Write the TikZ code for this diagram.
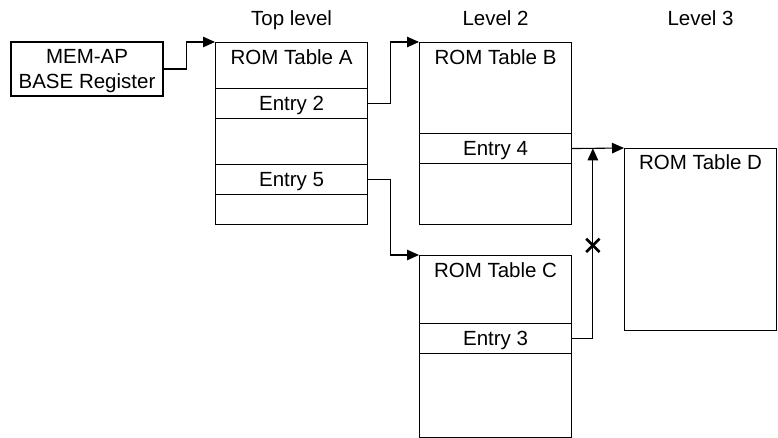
\documentclass[tikz,border=0pt]{standalone}
\usepackage{fontspec}
\setmainfont{Liberation Sans}
\usetikzlibrary{calc,arrows.meta}

\tikzset{
  tbl/.style={draw, line width=1.1pt, minimum width=152pt, minimum height=182pt, anchor=north west, inner sep=0pt},
  entry/.style={draw, line width=1.1pt, minimum width=152pt, minimum height=30pt, anchor=north west, inner sep=0pt, text height=14.7pt, text depth=0pt},
  hdr/.style={anchor=base, inner sep=0pt},
  lvl/.style={anchor=base, inner sep=0pt},
  link/.style={line width=1.1pt, -{Triangle[length=12pt,width=10.5pt]}},
}

\begin{document}
\begin{tikzpicture}[x=1pt, y=-1pt, font=\fontsize{20.5}{25}\selectfont]
  \useasboundingbox (0,0) rectangle (778,438);

  % top-left corners of the ROM tables
  \coordinate (A) at (215,42);
  \coordinate (B) at (419,42);
  \coordinate (C) at (419,255);
  \coordinate (D) at (624,148);

  % register box
  \node[draw, line width=1.1pt, minimum width=152pt, minimum height=54pt, align=center, inner sep=0pt, text depth=0pt] (mem) at (87,69) {MEM-AP\\BASE Register};

  % tables
  \node[tbl] (tA) at (A) {};
  \node[tbl] (tB) at (B) {};
  \node[tbl] (tC) at (C) {};
  \node[tbl] (tD) at (D) {};

  \node[hdr] (hA) at ($(tA.north)+(0,23)$) {ROM Table A};
  \node[hdr] (hB) at ($(tB.north)+(0,23)$) {ROM Table B};
  \node[hdr] (hC) at ($(tC.north)+(0,22)$) {ROM Table C};
  \node[hdr] (hD) at ($(tD.north)+(0,22)$) {ROM Table D};

  % entries
  \node[entry] (e2) at ($(A)+(0,46)$) {Entry 2};
  \node[entry] (e5) at ($(A)+(0,122)$) {Entry 5};
  \node[entry] (e4) at ($(B)+(0,91)$) {Entry 4};
  \node[entry] (e3) at ($(C)+(0,68)$) {Entry 3};

  % level labels
  \node[lvl] (lA) at ($(tA.north)+(0,-16)$) {Top level};
  \node[lvl] (lB) at (tB.north |- lA.base) {Level 2};
  \node[lvl] (lD) at (tD.north |- lA.base) {Level 3};

  % links
  \draw[link] (mem.east) -- ++(23,0) |- (tA.north west);
  \draw[link] (e2.east) -- ++(22,0) |- (tB.north west);
  \draw[link] (e5.east) -- ++(22,0) |- (tC.north west);
  \draw[link] (e4.east) -- (tD.north west);

  % blocked link from C to D
  \coordinate (jn) at ($(e4.east)!0.4!(tD.north west)$);
  \draw[link] (e3.east) -| (jn);
  \node[minimum size=13pt, inner sep=0pt] (cut) at ($(e3.east -| jn)!0.49!(jn)$) {};
  \draw[line width=2.6pt] (cut.north west) -- (cut.south east)
                          (cut.south west) -- (cut.north east);
\end{tikzpicture}
\end{document}
